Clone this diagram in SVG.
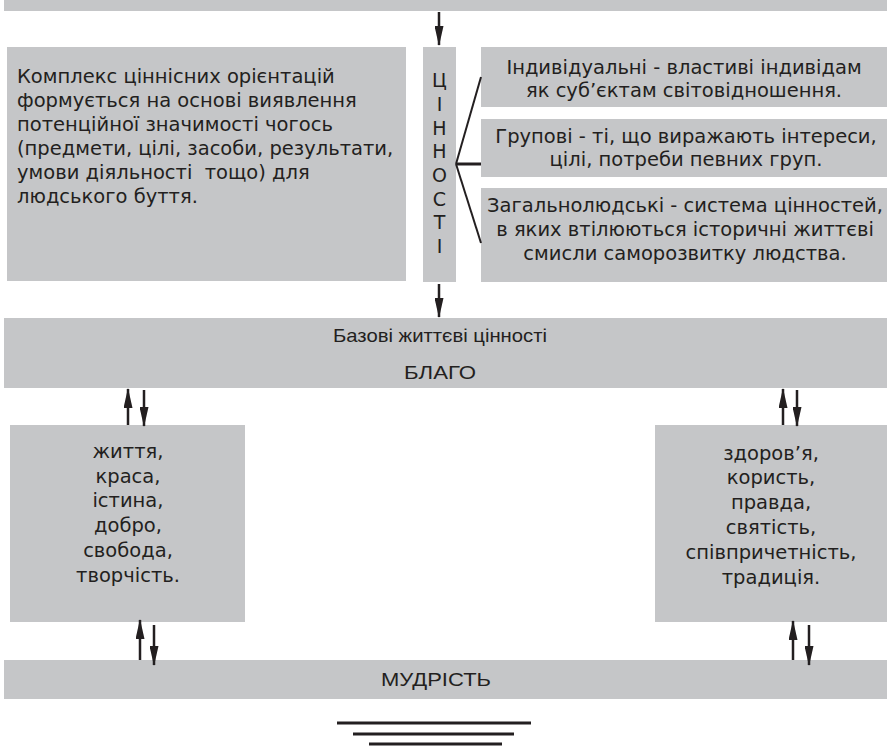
<svg xmlns="http://www.w3.org/2000/svg" width="891" height="746" viewBox="0 0 891 746">
<style>
.box{fill:#c5c6c8}
.t{font-family:"DejaVu Sans","Liberation Sans",sans-serif;font-size:19.5px;fill:#231f20}
.c{text-anchor:middle}
.v{font-family:"DejaVu Sans","Liberation Sans",sans-serif;font-size:19px;fill:#231f20;text-anchor:middle}
.n{font-family:"Liberation Sans",Arial,sans-serif;font-size:19px;fill:#231f20;text-anchor:middle}
.ln{stroke:#231f20;stroke-width:2.5;fill:none}
.fan{stroke:#231f20;stroke-width:2;fill:none}
.rl{stroke:#231f20;stroke-width:3}
</style>
<defs>
<marker id="ah" viewBox="0 0 20 9" refX="19" refY="4.5" markerWidth="20" markerHeight="9" markerUnits="userSpaceOnUse" orient="auto">
<path d="M0,0 L20,4.5 L0,9 Z" fill="#231f20"/>
</marker>
</defs>
<rect width="891" height="746" fill="#ffffff"/>
<g id="top"><rect class="box" x="4" y="0" width="883" height="11"/></g>
<g id="complex"><rect class="box" x="7" y="47" width="399" height="234"/>
<text class="t" x="17" y="83">Комплекс ціннісних орієнтацій</text>
<text class="t" x="17" y="107">формується на основі виявлення</text>
<text class="t" x="17" y="131">потенційної значимості чогось</text>
<text class="t" x="17" y="155">(предмети, цілі, засоби, результати,</text>
<text class="t" x="17" y="179" style="white-space:pre">умови діяльності  тощо) для</text>
<text class="t" x="17" y="203">людського буття.</text>
</g>
<g id="values"><rect class="box" x="423" y="47" width="33" height="235"/>
<text class="v" x="439.5" y="87">Ц</text>
<text class="v" x="439.5" y="111">І</text>
<text class="v" x="439.5" y="135">Н</text>
<text class="v" x="439.5" y="158">Н</text>
<text class="v" x="439.5" y="182">О</text>
<text class="v" x="439.5" y="206">С</text>
<text class="v" x="439.5" y="229">Т</text>
<text class="v" x="439.5" y="253">І</text>
</g>
<g id="individual"><rect class="box" x="481" y="47" width="406" height="60"/>
<text class="t c" x="684" y="74">Індивідуальні - властиві індивідам</text>
<text class="t c" x="684" y="97">як суб’єктам світовідношення.</text>
</g>
<g id="group"><rect class="box" x="481" y="119" width="406" height="58"/>
<text class="t c" x="686" y="143">Групові - ті, що виражають інтереси,</text>
<text class="t c" x="686" y="166">цілі, потреби певних груп.</text>
</g>
<g id="universal"><rect class="box" x="481" y="188" width="406" height="94"/>
<text class="t c" x="685" y="212">Загальнолюдські - система цінностей,</text>
<text class="t c" x="685" y="236">в яких втілюються історичні життєві</text>
<text class="t c" x="685" y="260">смисли саморозвитку людства.</text>
</g>
<g id="blago"><rect class="box" x="4" y="318" width="883" height="70"/>
<text class="n" x="440" y="342" textLength="214" lengthAdjust="spacingAndGlyphs">Базові життєві цінності</text>
<text class="n" x="440" y="379" textLength="72" lengthAdjust="spacingAndGlyphs">БЛАГО</text>
</g>
<g id="left-values"><rect class="box" x="10" y="425" width="235" height="197"/>
<text class="t c" x="128" y="458">життя,</text>
<text class="t c" x="128" y="483">краса,</text>
<text class="t c" x="128" y="507">істина,</text>
<text class="t c" x="128" y="532">добро,</text>
<text class="t c" x="128" y="557">свобода,</text>
<text class="t c" x="128" y="582">творчість.</text>
</g>
<g id="right-values"><rect class="box" x="655" y="425" width="232" height="197"/>
<text class="t c" x="771" y="460">здоров’я,</text>
<text class="t c" x="771" y="484">користь,</text>
<text class="t c" x="771" y="509">правда,</text>
<text class="t c" x="771" y="534">святість,</text>
<text class="t c" x="771" y="559">співпричетність,</text>
<text class="t c" x="771" y="584">традиція.</text>
</g>
<g id="wisdom"><rect class="box" x="4" y="660" width="883" height="39"/>
<text class="n" x="436" y="686" textLength="110" lengthAdjust="spacingAndGlyphs">МУДРІСТЬ</text>
</g>
<g id="connectors">
<line class="ln" x1="439" y1="12" x2="439" y2="45" marker-end="url(#ah)"/>
<line class="ln" x1="439" y1="284" x2="439" y2="317" marker-end="url(#ah)"/>
<line class="fan" x1="456" y1="164" x2="481" y2="77"/>
<line class="ln" x1="456" y1="164" x2="481" y2="164" style="stroke-width:3"/>
<line class="fan" x1="456" y1="164" x2="481" y2="243"/>
<line class="ln" x1="128" y1="425" x2="128" y2="389" marker-end="url(#ah)"/>
<line class="ln" x1="144" y1="390" x2="144" y2="426" marker-end="url(#ah)"/>
<line class="ln" x1="783" y1="425" x2="783" y2="389" marker-end="url(#ah)"/>
<line class="ln" x1="797" y1="390" x2="797" y2="426" marker-end="url(#ah)"/>
<line class="ln" x1="140" y1="660" x2="140" y2="620" marker-end="url(#ah)"/>
<line class="ln" x1="154" y1="625" x2="154" y2="665" marker-end="url(#ah)"/>
<line class="ln" x1="793" y1="660" x2="793" y2="621" marker-end="url(#ah)"/>
<line class="ln" x1="809" y1="625" x2="809" y2="665" marker-end="url(#ah)"/>
</g>
<g id="rule">
<line class="rl" x1="337" y1="723" x2="531" y2="723"/>
<line class="rl" x1="353" y1="734" x2="514" y2="734"/>
<line class="rl" x1="369" y1="744" x2="502" y2="744"/>
</g>
</svg>
